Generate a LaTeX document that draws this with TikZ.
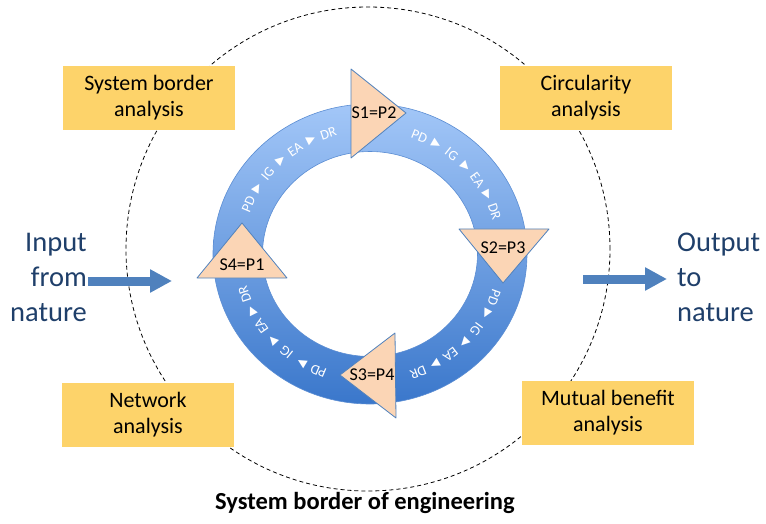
\documentclass[tikz,border=0pt]{standalone}
\usepackage{fontspec}
\setmainfont{Carlito}
\newfontfamily\symfont{DejaVu Sans}
\usetikzlibrary{arrows.meta}
\definecolor{boxyellow}{HTML}{FDD36A}
\definecolor{peach}{HTML}{FBD5B5}
\definecolor{triline}{HTML}{4F81BD}
\definecolor{ringtop}{HTML}{A3C7F8}
\definecolor{ringbot}{HTML}{3A77CB}
\definecolor{ringedge}{HTML}{5B8DD3}
\definecolor{arrowblue}{HTML}{4F81BD}
\definecolor{natureblue}{HTML}{1F3F6A}
\newcommand{\stepmark}{{\symfont\fontsize{11.5}{11.5}\selectfont ▶}}

\begin{document}
\begin{tikzpicture}[x=1pt,y=1pt,
  box/.style={fill=boxyellow,minimum width=172pt,minimum height=64pt,align=center,font=\fontsize{22}{26}\selectfont},
  tri/.style={fill=peach,draw=triline,line width=0.8pt,line join=round},
  lab/.style={font=\fontsize{18}{18}\selectfont},
  tok/.style={text=white,inner sep=0pt,font=\fontsize{14}{14}\selectfont},
  flow/.style={line width=9pt,draw=arrowblue,-{Triangle[length=22pt,width=22pt]}},
  nat/.style={text=natureblue,inner sep=0pt,font=\fontsize{28.5}{35}\selectfont}]
\useasboundingbox (0,0) rectangle (766,523);
\coordinate (ring) at (370,269);
\coordinate (border) at (368,274);
\draw[dash pattern=on 4pt off 3pt,line width=0.8pt] (border) circle [radius=242];

\shadedraw[top color=ringtop,bottom color=ringbot,draw=ringedge,line width=0.6pt,even odd rule]
  (ring) ellipse [x radius=157,y radius=150] (ring) ellipse [x radius=107.5,y radius=102.5];
\foreach \a [count=\q] in {157,68,-20,-113}
  \foreach \t [count=\i from 0] in {PD,\stepmark,IG,\stepmark,EA,\stepmark,DR} {
    \pgfmathsetmacro\ang{\a-8.1*\i}
    \node[tok,rotate=\ang-90] (t\q\i) at ([shift={(\ang:132 and 127)}]ring) {\t};
  }

\draw[tri] (351,454) -- (351,365) -- (406,410) -- cycle;
\node[lab] (s1) at (374,410) {S1=P2};
\draw[tri] (459,294) -- (549,294) -- (503,240) -- cycle;
\node[lab] (s2) at (503,275) {S2=P3};
\draw[tri] (395,190) -- (396,105) -- (340,148) -- cycle;
\node[lab] (s3) at (372,148) {S3=P4};
\draw[tri] (242,300) -- (197,245) -- (287,245) -- cycle;
\node[lab] (s4) at (242,258) {S4=P1};

\node[box] (sb) at (149,425) {System border\\analysis};
\node[box] (ca) at (586,425) {Circularity\\analysis};
\node[box] (na) at (148,108) {Network\\analysis};
\node[box] (mb) at (608,110) {Mutual benefit\\analysis};

\node[nat,align=right,anchor=north east] (input) at (87,290) {Input\\from\\nature};
\node[nat,align=left,anchor=north west] (output) at (677,290) {Output\\to\\nature};
\coordinate (in0) at (88,242);
\coordinate (in1) at (172,242);
\draw[flow] (in0) -- (in1);
\coordinate (out0) at (583,244);
\coordinate (out1) at (667,244);
\draw[flow] (out0) -- (out1);

\node[font=\bfseries\fontsize{24.5}{24.5}\selectfont,anchor=base] (title) at (365,14) {System border of engineering};
\end{tikzpicture}
\end{document}
